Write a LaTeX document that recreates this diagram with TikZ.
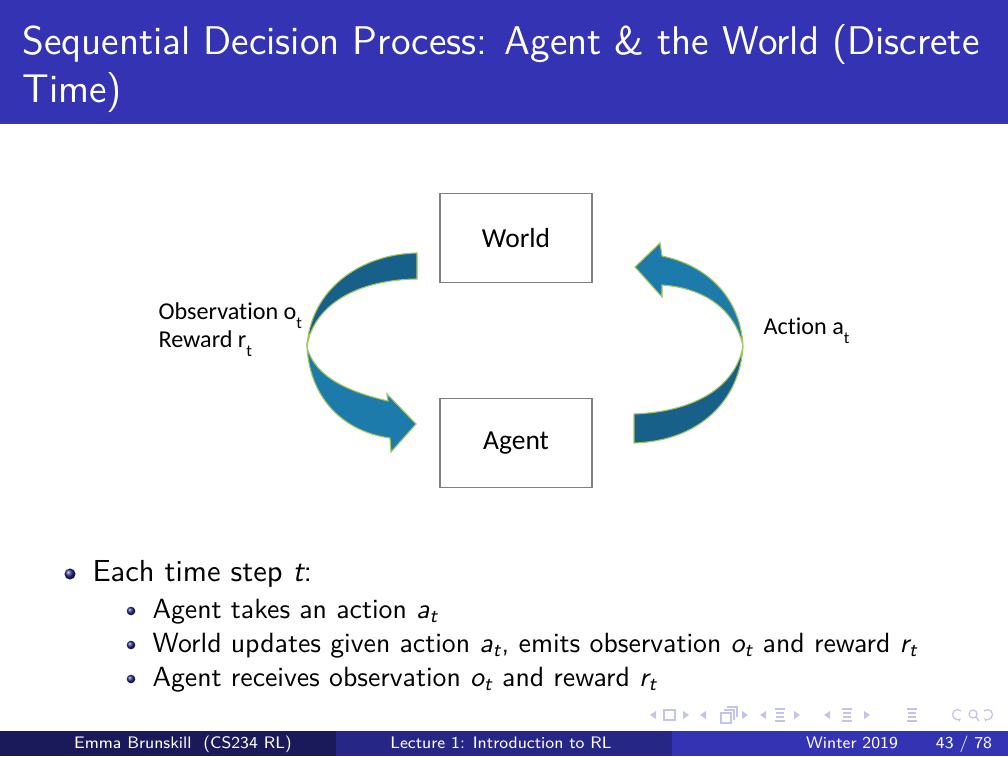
\documentclass[tikz,border=0pt]{standalone}
\usepackage{amsmath}
\usepackage{fontspec}
\newfontfamily\calibri[Ligatures=NoCommon]{Carlito}
\usetikzlibrary{positioning,arrows.meta}

\definecolor{beamerblue}{HTML}{3333B3}
\definecolor{footmid}{HTML}{262686}
\definecolor{footleft}{HTML}{1A1A5A}
\definecolor{ribbondark}{HTML}{17608A}
\definecolor{ribbonlight}{HTML}{1D7BAB}
\definecolor{ribbonedge}{HTML}{A4C65A}
\definecolor{navcol}{HTML}{C4C4EA}

\newcommand{\sv}[1]{\textit{#1}}
\newcommand{\lowt}{\raisebox{-3pt}{\fontsize{6}{7}\selectfont t}}

\begin{document}
\begin{tikzpicture}[x=0.36pt,y=-0.36pt]
	\tikzstyle{box}=[draw=black!50,fill=white,line width=0.5pt,minimum width=54.7pt,minimum height=32pt,font=\calibri\fontsize{9.9}{11}\selectfont]
	\tikzstyle{label}=[anchor=base west,inner sep=0pt,font=\calibri\fontsize{8.7}{10}\selectfont]
	\tikzstyle{ribbon}=[draw=ribbonedge,line width=0.4pt]
	\tikzstyle{titletext}=[anchor=base west,inner sep=0pt,text=white,font=\sffamily\fontsize{14.4}{17}\selectfont]
	\tikzstyle{body}=[anchor=base west,inner sep=0pt,font=\sffamily\fontsize{10.95}{13}\selectfont]
	\tikzstyle{subbody}=[anchor=base west,inner sep=0pt,font=\sffamily\fontsize{10}{12}\selectfont]
	\tikzstyle{foot}=[anchor=base,inner sep=0pt,text=white,font=\sffamily\fontsize{6}{7}\selectfont]
	\tikzstyle{nav}=[fill=navcol,draw=none]
	\tikzstyle{navline}=[draw=navcol,line width=0.45pt]

	\useasboundingbox (0,0) rectangle (1008,756);
	\fill[white] (0,0) rectangle (1008,756);

	% title bar
	\fill[beamerblue] (0,0) rectangle (1008,124);
	\node [titletext] (title1) at (22,55) {Sequential Decision Process: Agent \& the World (Discrete};
	\node [titletext] (title2) at (22,103) {Time)};

	% the two boxes
	\node [box] (world) at (516,238) {World};
	\node [box] (agent) at (516,443) {Agent};

	% left ribbon: world -> agent
	\path[ribbon,fill=ribbondark] (417,253) .. controls (360,254) and (310,290) .. (307,347)
		.. controls (312,310) and (350,280) .. (417,279) -- cycle;
	\path[ribbon,fill=ribbonlight] (307,347) .. controls (310,400) and (345,432) .. (390,438)
		-- (391,452) -- (416,424) -- (387,394) -- (388,401)
		.. controls (350,392) and (315,378) .. (307,347) -- cycle;

	% right ribbon: agent -> world
	\path[ribbon,fill=ribbondark] (634,443) .. controls (700,441) and (740,400) .. (743,346)
		.. controls (735,390) and (690,412) .. (634,414) -- cycle;
	\path[ribbon,fill=ribbonlight] (743,346) .. controls (740,295) and (705,265) .. (662,256)
		-- (660,243) -- (635,267) -- (662,297) -- (662,285)
		.. controls (705,288) and (735,310) .. (743,346) -- cycle;

	\node [label] (obs) at (158,320) {Observation o\lowt};
	\node [label] (rew) at (158,348) {Reward r\lowt};
	\node [label] (act) at (763,335) {Action a\lowt};

	% items
	\shade[ball color=beamerblue!80!black] (70,574) circle (2pt);
	\node [body] (item) at (92,581) {Each time step $\sv{t}$:};
	\foreach \y in {611,645,679}
		\shade[ball color=beamerblue!80!black] (131,\y) circle (1.55pt);
	\node [subbody] (sub1) at (152,618) {Agent takes an action $\sv{a}_{\sv{t}}$};
	\node [subbody] (sub2) at (152,652) {World updates given action $\sv{a}_{\sv{t}}$, emits observation $\sv{o}_{\sv{t}}$ and reward $\sv{r}_{\sv{t}}$};
	\node [subbody] (sub3) at (152,686) {Agent receives observation $\sv{o}_{\sv{t}}$ and reward $\sv{r}_{\sv{t}}$};

	% navigation symbols
	\foreach \x in {653,703,763,827}
		\path[nav] (\x-3,715) -- (\x+3,711) -- (\x+3,719) -- cycle;
	\foreach \x in {686,745,797,867}
		\path[nav] (\x+3,715) -- (\x-3,711) -- (\x-3,719) -- cycle;
	\draw[navline] (664,710) rectangle (675,720);
	\draw[navline] (721,713) rectangle (731,723) (724,710) -- (734,710) -- (734,720) (727,707) -- (737,707) -- (737,717);
	\foreach \x in {780,847,912}
		\draw[navline] (\x-5,709) -- (\x+5,709) (\x-4,713) -- (\x+4,713) (\x-4,717) -- (\x+4,717) (\x-5,721) -- (\x+5,721);
	\draw[navline,-{Stealth[length=1.5pt]}] (961,711) arc (-45:-315:5);
	\draw[navline] (973,714) circle (4) (976,717) -- (979,721);
	\draw[navline,-{Stealth[length=1.5pt]}] (984,711) arc (225:495:5);

	% footline
	\fill[footleft] (0,731) rectangle (336,756);
	\fill[footmid] (336,731) rectangle (672,756);
	\fill[beamerblue] (672,731) rectangle (1008,756);
	\node [foot] (author) at (183,748) {Emma Brunskill\ \ (CS234 RL)};
	\node [foot] (lecture) at (501,748) {Lecture 1: Introduction to RL};
	\node [foot] (date) at (852,748) {Winter 2019};
	\node [foot] (page) at (964,748) {43 / 78};
\end{tikzpicture}
\end{document}
